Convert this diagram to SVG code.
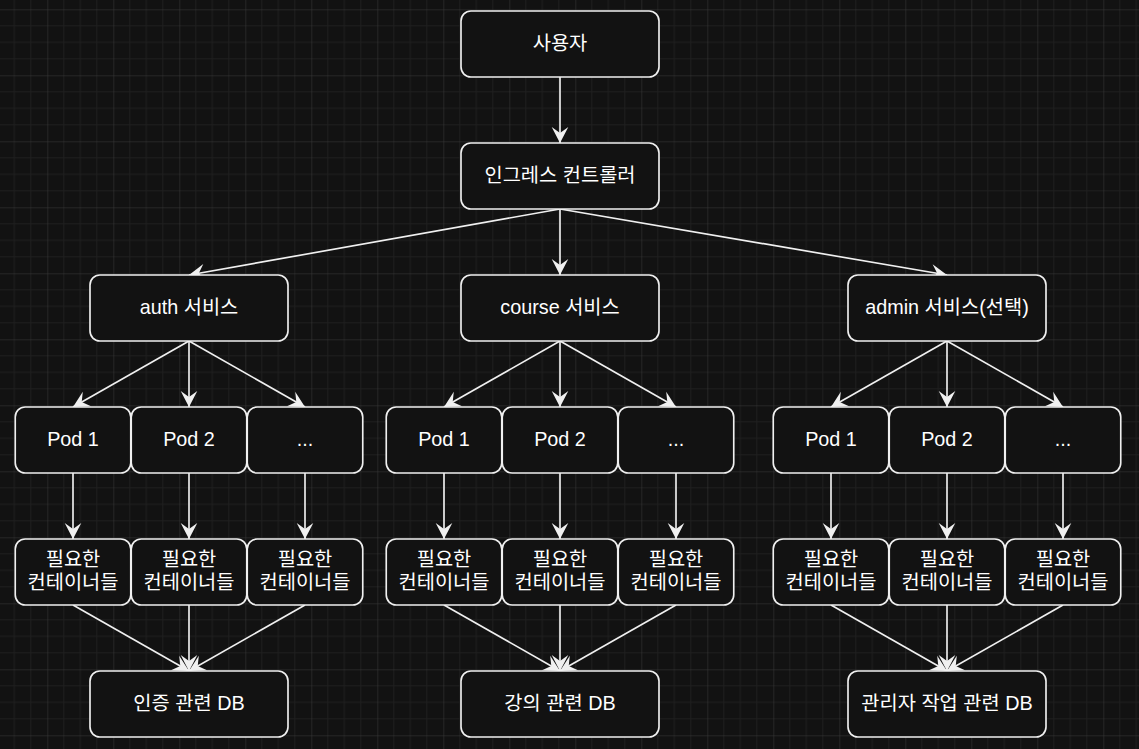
<svg xmlns="http://www.w3.org/2000/svg" width="1139" height="749" viewBox="0 0 1139 749">
<style>
.box{fill:#121212;stroke:#f0f0f0;stroke-width:1.65}
.t{fill:#ffffff;font-family:"Liberation Sans","Noto Sans CJK KR",sans-serif;font-size:19.8px;text-anchor:middle;dominant-baseline:central}
.e{fill:none;stroke:#f0f0f0;stroke-width:1.65}
</style>
<defs>
<pattern id="grid" patternUnits="userSpaceOnUse" x="47.3" y="9.3" width="66" height="66">
<path d="M16.5,0V66M33,0V66M49.5,0V66M0,16.5H66M0,33H66M0,49.5H66" stroke="#1f1f1f" stroke-width="1" fill="none"/>
<path d="M0,0V66M0,0H66" stroke="#3a3a3a" stroke-width="1" fill="none"/>
</pattern>
<marker id="arr" markerUnits="userSpaceOnUse" markerWidth="20" markerHeight="20" viewBox="-18 -10 20 20" refX="0" refY="0" orient="auto" overflow="visible">
<path d="M0,0 L-16,-8.3 L-10,0 L-16,8.3 Z" fill="#f0f0f0"/>
</marker>
</defs>
<rect width="1139" height="749" fill="#121212"/>
<rect width="1139" height="749" fill="url(#grid)"/>

<g id="connectors" class="edges">
<path class="e" marker-end="url(#arr)" d="M560,77 L560,143"/>
<path class="e" marker-end="url(#arr)" d="M560,209 L189,275"/>
<path class="e" marker-end="url(#arr)" d="M560,209 L560,275"/>
<path class="e" marker-end="url(#arr)" d="M560,209 L947,275"/>

<path class="e" marker-end="url(#arr)" d="M189,341 L73,407"/>
<path class="e" marker-end="url(#arr)" d="M189,341 L189,407"/>
<path class="e" marker-end="url(#arr)" d="M189,341 L305,407"/>
<path class="e" marker-end="url(#arr)" d="M560,341 L444,407"/>
<path class="e" marker-end="url(#arr)" d="M560,341 L560,407"/>
<path class="e" marker-end="url(#arr)" d="M560,341 L676,407"/>
<path class="e" marker-end="url(#arr)" d="M947,341 L831,407"/>
<path class="e" marker-end="url(#arr)" d="M947,341 L947,407"/>
<path class="e" marker-end="url(#arr)" d="M947,341 L1063,407"/>

<path class="e" marker-end="url(#arr)" d="M73,473 L73,539"/>
<path class="e" marker-end="url(#arr)" d="M189,473 L189,539"/>
<path class="e" marker-end="url(#arr)" d="M305,473 L305,539"/>
<path class="e" marker-end="url(#arr)" d="M444,473 L444,539"/>
<path class="e" marker-end="url(#arr)" d="M560,473 L560,539"/>
<path class="e" marker-end="url(#arr)" d="M676,473 L676,539"/>
<path class="e" marker-end="url(#arr)" d="M831,473 L831,539"/>
<path class="e" marker-end="url(#arr)" d="M947,473 L947,539"/>
<path class="e" marker-end="url(#arr)" d="M1063,473 L1063,539"/>

<path class="e" marker-end="url(#arr)" d="M73,605 L189,671"/>
<path class="e" marker-end="url(#arr)" d="M189,605 L189,671"/>
<path class="e" marker-end="url(#arr)" d="M305,605 L189,671"/>
<path class="e" marker-end="url(#arr)" d="M444,605 L560,671"/>
<path class="e" marker-end="url(#arr)" d="M560,605 L560,671"/>
<path class="e" marker-end="url(#arr)" d="M676,605 L560,671"/>
<path class="e" marker-end="url(#arr)" d="M831,605 L947,671"/>
<path class="e" marker-end="url(#arr)" d="M947,605 L947,671"/>
<path class="e" marker-end="url(#arr)" d="M1063,605 L947,671"/>
</g>

<g id="user"><rect class="box" x="461" y="11" width="198" height="66" rx="9.9"/><text class="t" x="560" y="42.5">사용자</text></g>
<g id="ingress"><rect class="box" x="461" y="143" width="198" height="66" rx="9.9"/><text class="t" x="560" y="174.5">인그레스 컨트롤러</text></g>

<g id="auth-svc"><rect class="box" x="90" y="275" width="198" height="66" rx="9.9"/><text class="t" x="189" y="306.5">auth 서비스</text></g>
<g id="course-svc"><rect class="box" x="461" y="275" width="198" height="66" rx="9.9"/><text class="t" x="560" y="306.5">course 서비스</text></g>
<g id="admin-svc"><rect class="box" x="848" y="275" width="198" height="66" rx="9.9"/><text class="t" x="947" y="306.5">admin 서비스(선택)</text></g>

<g id="auth-pod1"><rect class="box" x="15.25" y="407" width="115.5" height="66" rx="9.9"/><text class="t" x="73" y="438.5">Pod 1</text></g>
<g id="auth-pod2"><rect class="box" x="131.25" y="407" width="115.5" height="66" rx="9.9"/><text class="t" x="189" y="438.5">Pod 2</text></g>
<g id="auth-pod3"><rect class="box" x="247.25" y="407" width="115.5" height="66" rx="9.9"/><text class="t" x="305" y="438.5">...</text></g>
<g id="course-pod1"><rect class="box" x="386.25" y="407" width="115.5" height="66" rx="9.9"/><text class="t" x="444" y="438.5">Pod 1</text></g>
<g id="course-pod2"><rect class="box" x="502.25" y="407" width="115.5" height="66" rx="9.9"/><text class="t" x="560" y="438.5">Pod 2</text></g>
<g id="course-pod3"><rect class="box" x="618.25" y="407" width="115.5" height="66" rx="9.9"/><text class="t" x="676" y="438.5">...</text></g>
<g id="admin-pod1"><rect class="box" x="773.25" y="407" width="115.5" height="66" rx="9.9"/><text class="t" x="831" y="438.5">Pod 1</text></g>
<g id="admin-pod2"><rect class="box" x="889.25" y="407" width="115.5" height="66" rx="9.9"/><text class="t" x="947" y="438.5">Pod 2</text></g>
<g id="admin-pod3"><rect class="box" x="1005.25" y="407" width="115.5" height="66" rx="9.9"/><text class="t" x="1063" y="438.5">...</text></g>

<g id="auth-c1"><rect class="box" x="15.25" y="539" width="115.5" height="66" rx="9.9"/><text class="t" x="73"><tspan x="73" y="558.6">필요한</tspan><tspan x="73" y="582.4">컨테이너들</tspan></text></g>
<g id="auth-c2"><rect class="box" x="131.25" y="539" width="115.5" height="66" rx="9.9"/><text class="t" x="189"><tspan x="189" y="558.6">필요한</tspan><tspan x="189" y="582.4">컨테이너들</tspan></text></g>
<g id="auth-c3"><rect class="box" x="247.25" y="539" width="115.5" height="66" rx="9.9"/><text class="t" x="305"><tspan x="305" y="558.6">필요한</tspan><tspan x="305" y="582.4">컨테이너들</tspan></text></g>
<g id="course-c1"><rect class="box" x="386.25" y="539" width="115.5" height="66" rx="9.9"/><text class="t" x="444"><tspan x="444" y="558.6">필요한</tspan><tspan x="444" y="582.4">컨테이너들</tspan></text></g>
<g id="course-c2"><rect class="box" x="502.25" y="539" width="115.5" height="66" rx="9.9"/><text class="t" x="560"><tspan x="560" y="558.6">필요한</tspan><tspan x="560" y="582.4">컨테이너들</tspan></text></g>
<g id="course-c3"><rect class="box" x="618.25" y="539" width="115.5" height="66" rx="9.9"/><text class="t" x="676"><tspan x="676" y="558.6">필요한</tspan><tspan x="676" y="582.4">컨테이너들</tspan></text></g>
<g id="admin-c1"><rect class="box" x="773.25" y="539" width="115.5" height="66" rx="9.9"/><text class="t" x="831"><tspan x="831" y="558.6">필요한</tspan><tspan x="831" y="582.4">컨테이너들</tspan></text></g>
<g id="admin-c2"><rect class="box" x="889.25" y="539" width="115.5" height="66" rx="9.9"/><text class="t" x="947"><tspan x="947" y="558.6">필요한</tspan><tspan x="947" y="582.4">컨테이너들</tspan></text></g>
<g id="admin-c3"><rect class="box" x="1005.25" y="539" width="115.5" height="66" rx="9.9"/><text class="t" x="1063"><tspan x="1063" y="558.6">필요한</tspan><tspan x="1063" y="582.4">컨테이너들</tspan></text></g>

<g id="auth-db"><rect class="box" x="90" y="671" width="198" height="66" rx="9.9"/><text class="t" x="189" y="702.5">인증 관련 DB</text></g>
<g id="course-db"><rect class="box" x="461" y="671" width="198" height="66" rx="9.9"/><text class="t" x="560" y="702.5">강의 관련 DB</text></g>
<g id="admin-db"><rect class="box" x="848" y="671" width="198" height="66" rx="9.9"/><text class="t" x="947" y="702.5">관리자 작업 관련 DB</text></g>
</svg>
